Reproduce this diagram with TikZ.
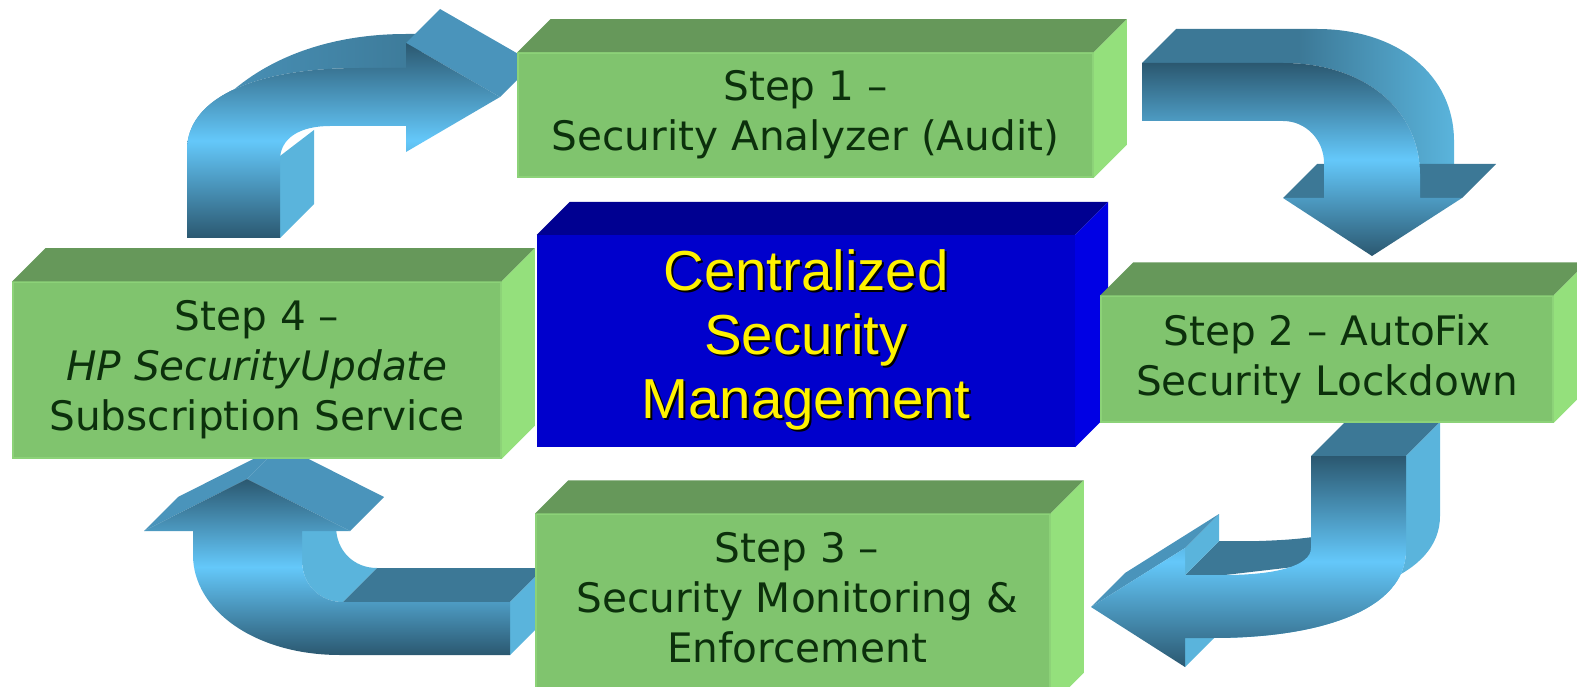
\documentclass[tikz,border=0pt]{standalone}
\usepackage{fontspec}
\newfontfamily\stepfont{DejaVu Sans}
\newfontfamily\hubfont{Liberation Sans}
\usetikzlibrary{calc}

\definecolor{boxfront}{RGB}{128,196,110}
\definecolor{boxtop}{RGB}{102,152,90}
\definecolor{boxside}{RGB}{148,224,124}
\definecolor{boxedge}{RGB}{140,210,120}
\definecolor{steptext}{RGB}{12,48,12}
\definecolor{hubfront}{RGB}{0,0,204}
\definecolor{hubtop}{RGB}{0,0,145}
\definecolor{hubside}{RGB}{0,0,228}
\definecolor{arrdark}{RGB}{43,88,112}
\definecolor{arrlight}{RGB}{100,200,250}
\definecolor{arrtop}{RGB}{60,120,150}
\definecolor{arrhead}{RGB}{74,148,187}
\definecolor{arrside}{RGB}{90,180,220}

% yellow text with a dark drop shadow
\newcommand{\shadowed}[1]{\leavevmode\rlap{\kern2pt\raisebox{-2pt}{\color{black}#1}}#1}
% top and right faces of a block
\newcommand{\faces}[3]{%
  \fill[#2] (#1.north west) -- ++(33,-33) -- ($(#1.north east)+(33,-33)$) -- (#1.north east) -- cycle;
  \fill[#3] (#1.north east) -- ++(33,-33) -- ($(#1.south east)+(33,-33)$) -- (#1.south east) -- cycle;}

\begin{document}
\begin{tikzpicture}[
  x=1pt, y=-1pt,
  stepbox/.style={draw=boxedge, line width=1.5pt, fill=boxfront, text=steptext,
                  align=center, inner sep=0pt, font=\stepfont\fontsize{40.6}{50}\selectfont},
  steplabel/.style={text=steptext, align=center, inner sep=0pt,
                    font=\stepfont\fontsize{40.6}{50}\selectfont},
  hubbox/.style={fill=hubfront, text=yellow, align=center, inner sep=0pt,
                 font=\hubfont\fontsize{56.4}{64}\selectfont},
  front/.style={top color=arrdark, bottom color=arrdark, middle color=arrlight}
]
\useasboundingbox (0,0) rectangle (1577,687);

% arrow: step 4 -> step 1
\shade[left color=arrhead, right color=arrtop] (187,150) .. controls (187,100) and (250,68) .. (360,68)
  -- (406,68) -- (440,34) -- (406,34) .. controls (300,34) and (220,80) .. (187,150) -- cycle;
\fill[arrside] (280,238) -- (280,156) -- (314,130) -- (314,204) -- cycle;
\fill[arrhead] (406,43) -- (440,9) -- (534,63) -- (500,97) -- cycle;
\shade[front] (187,238) -- (187,150) .. controls (187,100) and (250,68) .. (360,68) -- (406,68)
  -- (406,43) -- (500,97) -- (406,152) -- (406,126) -- (330,126)
  .. controls (300,126) and (280,138) .. (280,160) -- (280,238) -- cycle;

% arrow: step 1 -> step 2
\shade[left color=arrtop, right color=arrside, middle color=arrtop]
  (1142,63) -- (1176,29) -- (1317,29) .. controls (1399,29) and (1454,76) .. (1454,141)
  -- (1454,164) -- (1420,198) -- (1420,175) .. controls (1420,110) and (1365,63) .. (1283,63) -- cycle;
\fill[arrtop] (1283,198) -- (1317,164) -- (1496,164) -- (1462,198) -- cycle;
\shade[front] (1142,63) -- (1283,63) .. controls (1365,63) and (1420,110) .. (1420,175)
  -- (1420,198) -- (1462,198) -- (1372,256) -- (1283,198) -- (1324,198) -- (1324,163)
  .. controls (1324,140) and (1306,121) .. (1283,121) -- (1142,121) -- cycle;

% arrow: step 2 -> step 3
\fill[arrtop] (1311,456) -- (1345,422) -- (1440,422) -- (1406,456) -- cycle;
\fill[arrside] (1406,456) -- (1440,422) -- (1440,516) .. controls (1440,576) and (1354,604) .. (1247,604)
  -- (1213,638) .. controls (1320,638) and (1406,610) .. (1406,550) -- cycle;
\fill[arrtop] (1185,575) -- (1219,541) -- (1259,541) .. controls (1290,540) and (1311,538) .. (1330,534)
  -- (1311,565) -- (1225,575) -- cycle;
\fill[arrside] (1185,548) -- (1219,514) -- (1219,541) -- (1185,575) -- cycle;
\fill[arrside] (1185,638) -- (1219,604) -- (1219,633) -- (1185,667) -- cycle;
\fill[arrhead] (1185,548) -- (1219,514) -- (1125,573) -- (1091,607) -- cycle;
\shade[front] (1311,456) -- (1406,456) -- (1406,550) .. controls (1406,610) and (1320,638) .. (1213,638)
  -- (1185,638) -- (1185,667) -- (1091,607) -- (1185,548) -- (1185,575) -- (1225,575)
  .. controls (1275,575) and (1311,566) .. (1311,548) -- cycle;

% arrow: step 3 -> step 4
\fill[arrside] (302,531) -- (302,560) .. controls (302,585) and (320,602) .. (343,602)
  -- (377,568) .. controls (354,568) and (336,551) .. (336,526) -- cycle;
\fill[arrtop] (343,602) -- (377,568) -- (544,568) -- (510,602) -- cycle;
\fill[arrside] (510,602) -- (544,568) -- (544,621) -- (510,655) -- cycle;
\fill[arrhead] (144,531) -- (178,497) -- (281,445) -- (247,479) -- cycle;
\fill[arrhead] (247,479) -- (281,445) -- (384,497) -- (350,531) -- cycle;
\shade[front] (510,602) -- (510,655) -- (340,655) .. controls (255,655) and (193,610) .. (193,555)
  -- (193,531) -- (144,531) -- (247,479) -- (350,531) -- (302,531) -- (302,560)
  .. controls (302,585) and (320,602) .. (343,602) -- cycle;

% blocks
\node[hubbox, minimum width=538pt, minimum height=212pt] (hub) at (806,341)
  {\shadowed{Centralized}\\\shadowed{Security}\\\shadowed{Management}};
\faces{hub}{hubtop}{hubside}
\node[stepbox, minimum width=575pt, minimum height=124pt] (step1) at (805.5,115)
  {Step 1 –\\Security Analyzer (Audit)};
\faces{step1}{boxtop}{boxside}
\node[stepbox, minimum width=452pt, minimum height=126pt] (step2) at (1327,359)
  {Step 2 – AutoFix\\Security Lockdown};
\faces{step2}{boxtop}{boxside}
\node[stepbox, minimum width=514pt, minimum height=191pt] (step3) at (793,609.5) {};
\faces{step3}{boxtop}{boxside}
\node[steplabel] (step3txt) at (797,598) {Step 3 –\\Security Monitoring \&\\Enforcement};
\node[stepbox, minimum width=488pt, minimum height=176pt] (step4) at (257,370)
  {Step 4 –\\\textit{HP SecurityUpdate}\\Subscription Service};
\faces{step4}{boxtop}{boxside}
\end{tikzpicture}
\end{document}
